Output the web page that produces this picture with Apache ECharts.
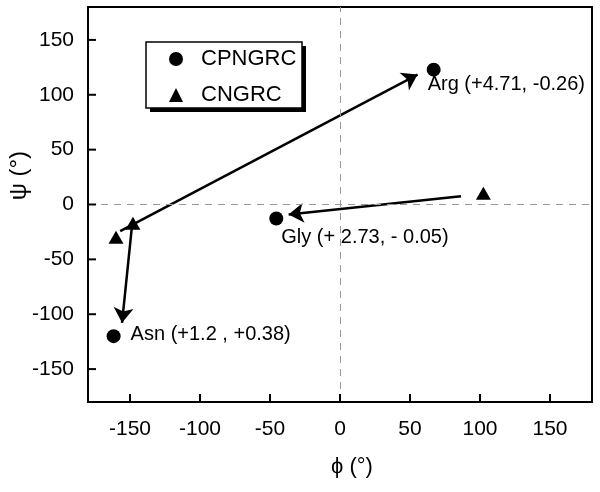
<!DOCTYPE html>
<html><head><meta charset="utf-8">
<script src="https://cdn.jsdelivr.net/npm/echarts@6/dist/echarts.min.js"></script>
<style>html,body{margin:0;padding:0;background:#fff}#c{width:600px;height:492px}</style>
</head><body><div id="c"></div>
<script>
const tickValues = [-150, -100, -50, 0, 50, 100, 150];
const axisMin = -180, axisMax = 180;
const cpngrcX = [66.9, -45.5, -161.7];
const cpngrcY = [122.9, -12.8, -120];
const cpngrcLabels = ['Arg (+4.71, -0.26)', 'Gly (+ 2.73, - 0.05)', 'Asn (+1.2 , +0.38)'];
const cngrcX = [102.4, -147.9, -160];
const cngrcY = [10.3, -17, -29.8];
const arrowFromX = [-157, -148.6, 86.4];
const arrowFromY = [-24.3, -19.8, 7.6];
const arrowToX = [55.4, -155.7, -36.7];
const arrowToY = [118.4, -107.8, -9.1];

const FONT = "'Liberation Sans', Arial, sans-serif";
const labelOffsets = [[-18, 15], [-7, 19], [5, -2]];
const TICK_LEN = 8;

const chart = echarts.init(document.getElementById('c'), null, {renderer: 'canvas'});
function mainAxis(pos, margin) {
  return {
    type: 'value', min: axisMin, max: axisMax, position: pos,
    axisLine: {show: true, onZero: false, lineStyle: {color: '#000', width: 2}},
    axisTick: {show: false},
    axisLabel: {show: true, color: '#000', fontSize: 21, fontFamily: FONT, margin: margin, customValues: tickValues},
    splitLine: {show: false}
  };
}
function frameAxis(pos) {
  return {
    type: 'value', min: axisMin, max: axisMax, position: pos,
    axisLine: {show: true, onZero: false, lineStyle: {color: '#000', width: 2}},
    axisTick: {show: false}, axisLabel: {show: false}, splitLine: {show: false}
  };
}
chart.setOption({
  animation: false,
  grid: {left: 88, top: 7, right: 8, bottom: 90, show: false},
  xAxis: [mainAxis('bottom', 17), frameAxis('top')],
  yAxis: [mainAxis('left', 14), frameAxis('right')],
  legend: {
    orient: 'vertical', left: 146, top: 42, z: 10,
    padding: [6, 8, 4, 23], itemGap: 14, itemWidth: 14, itemHeight: 14,
    textStyle: {color: '#000', fontSize: 22, fontFamily: FONT, lineHeight: 22, padding: [0, 0, 0, 13]},
    data: [{name: 'CPNGRC', icon: 'circle'}, {name: 'CNGRC', icon: 'triangle'}]
  },
  graphic: [
    {type: 'rect', z: 1, shape: {x: 150, y: 46, width: 156, height: 66}, style: {fill: '#000'}},
    {type: 'rect', z: 2, shape: {x: 146, y: 42, width: 156, height: 66}, style: {fill: '#fff', stroke: '#000', lineWidth: 1.5}},
    {type: 'text', z: 5, left: 7, top: 151, rotation: Math.PI / 2, style: {text: 'ψ (°)', fontSize: 24, fontFamily: FONT, fill: '#000'}},
    {type: 'text', z: 5, left: 331, top: 456, style: {text: 'ϕ (°)', fontSize: 22, fontFamily: FONT, fill: '#000'}}
  ],
  series: [
    {
      type: 'line', data: [], silent: true,
      markLine: {
        silent: true, symbol: 'none', label: {show: false},
        lineStyle: {color: '#999', type: [7, 6], width: 1},
        data: [{xAxis: 0}, {yAxis: 0}]
      }
    },
    {
      type: 'custom', coordinateSystem: 'cartesian2d', silent: true, clip: false, z: 5,
      data: tickValues.map(v => [v, axisMin]),
      renderItem: function (params, api) {
        const p = api.coord([api.value(0), api.value(1)]);
        return {type: 'line', shape: {x1: p[0], y1: p[1], x2: p[0], y2: p[1] - TICK_LEN}, style: {stroke: '#000', lineWidth: 2}};
      }
    },
    {
      type: 'custom', coordinateSystem: 'cartesian2d', silent: true, clip: false, z: 5,
      data: tickValues.map(v => [axisMin, v]),
      renderItem: function (params, api) {
        const p = api.coord([api.value(0), api.value(1)]);
        return {type: 'line', shape: {x1: p[0], y1: p[1], x2: p[0] + TICK_LEN, y2: p[1]}, style: {stroke: '#000', lineWidth: 2}};
      }
    },
    {
      type: 'lines', coordinateSystem: 'cartesian2d', z: 3,
      symbol: ['none', 'arrow'], symbolSize: 15,
      lineStyle: {color: '#000', width: 2.5, opacity: 1},
      data: arrowFromX.map((x, i) => ({coords: [[x, arrowFromY[i]], [arrowToX[i], arrowToY[i]]]}))
    },
    {
      name: 'CPNGRC', type: 'scatter', symbol: 'circle', symbolSize: 14, z: 4,
      itemStyle: {color: '#000', opacity: 1},
      data: cpngrcX.map((x, i) => ({
        value: [x, cpngrcY[i]],
        label: {show: true, position: 'right', distance: 5, offset: labelOffsets[i], formatter: cpngrcLabels[i],
          color: '#000', opacity: 1, fontSize: 20, fontFamily: FONT}
      }))
    },
    {
      name: 'CNGRC', type: 'scatter', symbol: 'triangle', symbolSize: [15, 13], z: 4,
      itemStyle: {color: '#000', opacity: 1},
      data: cngrcX.map((x, i) => [x, cngrcY[i]])
    }
  ]
});
</script></body></html>
